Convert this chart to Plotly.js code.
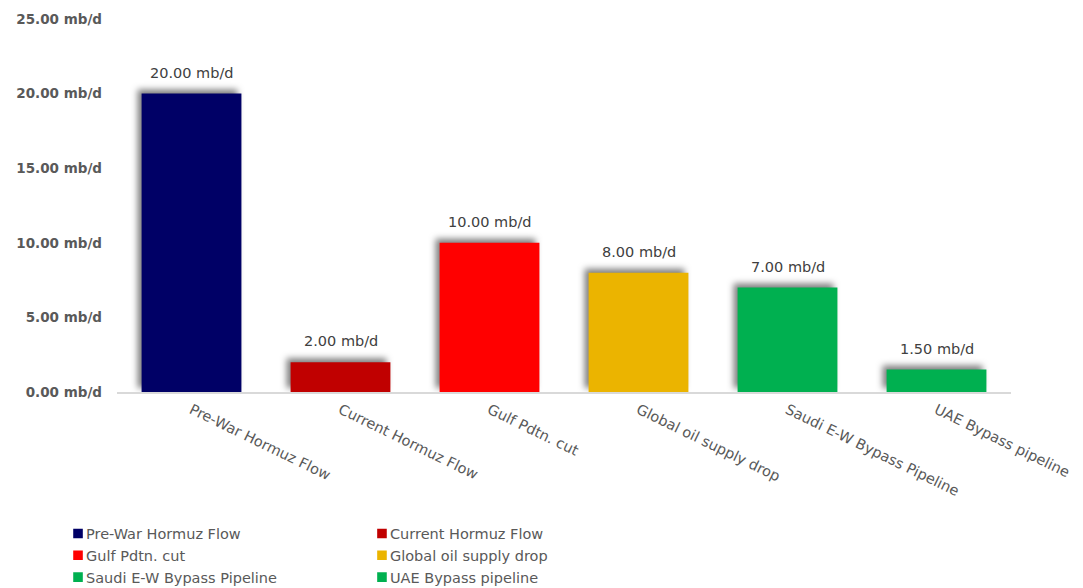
<!DOCTYPE html>
<html>
<head>
<meta charset="utf-8">
<script src="https://cdn.plot.ly/plotly-3.0.1.min.js"></script>
<style>
html,body{margin:0;padding:0;background:#fff;}
#chart{width:1083px;height:588px;}
.barlayer .trace.bars .point path{filter:drop-shadow(-4px -4px 3px rgba(0,0,0,0.5));}
g.legendpoints path{transform:translate(32px,0px) scale(0.8);}
</style>
</head>
<body>
<div id="chart"></div>
<script>
var categories = ["Pre-War Hormuz Flow","Current Hormuz Flow","Gulf Pdtn. cut","Global oil supply drop","Saudi E-W Bypass Pipeline","UAE Bypass pipeline"];
var values = [20.00, 2.00, 10.00, 8.00, 7.00, 1.50];
var colors = ["#000066","#C00000","#FF0000","#EBB400","#00B050","#00B050"];
var legendColumn = ["legend","legend2","legend","legend2","legend","legend2"];
var yTickValues = [0,5,10,15,20,25];
var unit = " mb/d";

var FONT = "DejaVu Sans, Verdana, sans-serif";
var traces = [];
var order = [0,2,4,1,3,5];
order.forEach(function(i){
  traces.push({
    type:"bar",
    x:[categories[i]],
    y:[values[i]],
    name:categories[i],
    marker:{color:colors[i]},
    legend:legendColumn[i],
    hoverinfo:"x+y"
  });
});

var annotations = categories.map(function(c,i){
  return {x:c, y:values[i], xref:"x", yref:"y", text:values[i].toFixed(2)+unit,
    showarrow:false, yanchor:"bottom", yshift:11,
    font:{family:FONT,size:14.5,color:"#404040"}};
});

var layout = {
  width:1083, height:588,
  margin:{l:117,r:72,t:19,b:196,autoexpand:false},
  paper_bgcolor:"#fff", plot_bgcolor:"#fff",
  barmode:"overlay",
  bargap:0.33,
  showlegend:true,
  xaxis:{type:"category", categoryorder:"array", categoryarray:categories,
    tickangle:26, showgrid:false, zeroline:false,
    showline:true, linecolor:"#D9D9D9", linewidth:2,
    ticks:"", ticklabelstandoff:2,
    tickfont:{family:FONT,size:14.5,color:"#595959"}},
  yaxis:{range:[0,25], tickmode:"array", tickvals:yTickValues,
    ticktext:yTickValues.map(function(v){return v.toFixed(2)+unit;}),
    showgrid:false, zeroline:false, showline:false, ticks:"",
    ticklabelstandoff:14,
    tickfont:{family:FONT,size:13.5,color:"#595959",weight:"bold"}},
  legend:{x:-0.0794, xanchor:"left", y:-0.3365, yanchor:"top", orientation:"v",
    font:{family:FONT,size:14.5,color:"#595959"}, bgcolor:"rgba(0,0,0,0)", traceorder:"normal"},
  legend2:{x:0.2606, xanchor:"left", y:-0.3365, yanchor:"top", orientation:"v",
    font:{family:FONT,size:14.5,color:"#595959"}, bgcolor:"rgba(0,0,0,0)", traceorder:"normal"},
  annotations:annotations
};

Plotly.newPlot("chart", traces, layout, {displayModeBar:false, staticPlot:true});
</script>
</body>
</html>
